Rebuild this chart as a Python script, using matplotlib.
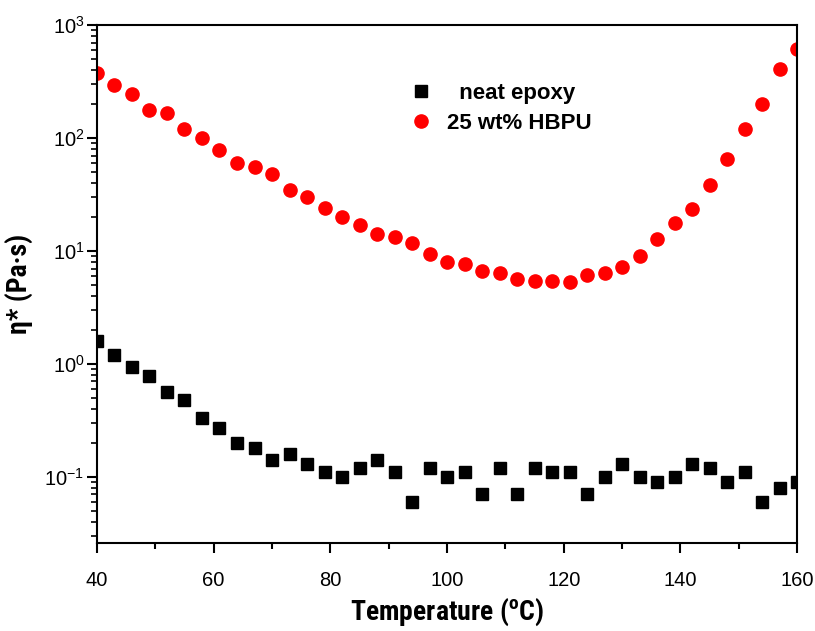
import numpy as np
import matplotlib
matplotlib.use("Agg")
import matplotlib.pyplot as plt
from matplotlib.ticker import MultipleLocator, LogLocator

plt.rcParams['font.family'] = ['Liberation Sans', 'DejaVu Sans']
plt.rcParams['mathtext.default'] = 'regular'

# temperature (C)
temp = np.arange(40, 161, 3)

# neat epoxy, eta* (Pa.s)
eta_neat = [1.6, 1.2, 0.94, 0.78, 0.57, 0.48, 0.33, 0.27, 0.20, 0.18,
            0.14, 0.16, 0.13, 0.11, 0.10, 0.12, 0.14, 0.11, 0.06, 0.12,
            0.10, 0.11, 0.07, 0.12, 0.07, 0.12, 0.11, 0.11, 0.07, 0.10,
            0.13, 0.10, 0.09, 0.10, 0.13, 0.12, 0.09, 0.11, 0.06, 0.08,
            0.09]

# 25 wt% HBPU, eta* (Pa.s)
eta_hbpu = [374, 294, 244, 177, 166, 120, 101, 78, 60, 56,
            48, 35, 30, 24, 20, 17, 14.1, 13.2, 11.7, 9.5,
            8.0, 7.7, 6.6, 6.35, 5.65, 5.45, 5.4, 5.3, 6.1, 6.4,
            7.3, 9.1, 12.8, 17.9, 23.4, 38.4, 65, 120, 200, 408,
            622]

narrow = ['Roboto Condensed', 'Liberation Sans', 'DejaVu Sans']

fig = plt.figure(figsize=(8.15, 6.31), dpi=100)
ax = fig.add_axes([0.119, 0.1395, 0.859, 0.8205])

ax.plot(temp, eta_neat, "s", color="k", ms=8, label="  neat epoxy")
ax.plot(temp, eta_hbpu, "o", color="#ff0000", ms=9.5, label="25 wt% HBPU")

ax.set_yscale("log")
ax.set_xlim(40, 160)
ax.set_ylim(0.026, 1000)
ax.xaxis.set_major_locator(MultipleLocator(20))
ax.xaxis.set_minor_locator(MultipleLocator(10))
ax.yaxis.set_major_locator(LogLocator(base=10, numticks=10))
ax.yaxis.set_minor_locator(LogLocator(base=10, subs=np.arange(2, 10), numticks=20))

for s in ax.spines.values():
    s.set_linewidth(1.5)
ax.tick_params(axis="x", which="major", direction="out", length=7, width=1.5, labelsize=14.5, pad=13)
ax.tick_params(axis="x", which="minor", direction="out", length=4, width=1.5)
ax.tick_params(axis="y", which="major", direction="out", length=7, width=1.5, labelsize=14.5, pad=2)
ax.tick_params(axis="y", which="minor", direction="out", length=4, width=1.2)

ax.set_xlabel("Temperature ($^o$C)", fontsize=20, fontweight="bold", labelpad=5, family=narrow)
ax.set_ylabel("η* (Pa·s)", fontsize=20, fontweight="bold", labelpad=8, family=narrow)

ax.legend(loc="upper left", bbox_to_anchor=(0.447, 0.888), frameon=False,
          borderaxespad=0, borderpad=0, handlelength=1.0, handletextpad=0.67,
          labelspacing=0.38, prop={"weight": "bold", "size": 16})

fig.savefig("out.png", dpi=100)
